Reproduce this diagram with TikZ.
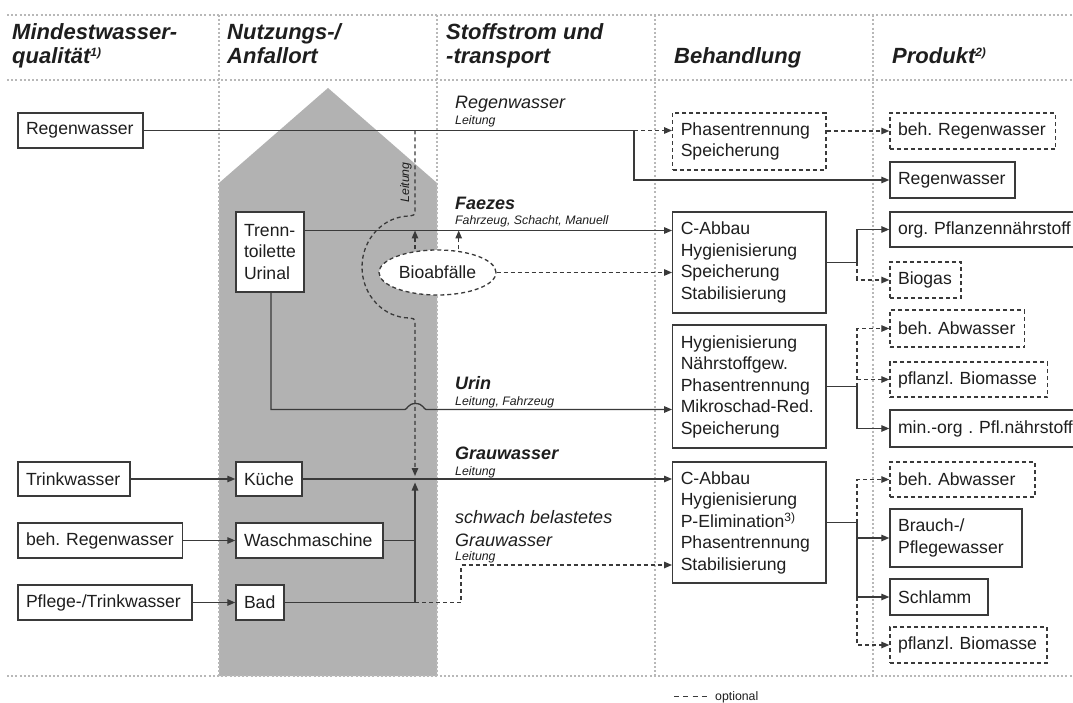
\documentclass[tikz,border=0pt]{standalone}
\usepackage{fontspec}
\setmainfont{Liberation Sans}
\usetikzlibrary{arrows.meta,shapes.geometric}
\definecolor{linec}{HTML}{3A3A3A}
\definecolor{txtc}{HTML}{1E1E1E}
\definecolor{houseg}{HTML}{B2B2B2}
\definecolor{dotc}{HTML}{B8B8B8}
\pgfdeclarelayer{bgl}\pgfdeclarelayer{connl}\pgfsetlayers{bgl,connl,main}
\frenchspacing
\hyphenpenalty=10000
\exhyphenpenalty=10000
\newcommand\boxfont{\fontsize{17.6}{21.5}\selectfont}
\newcommand\hdfont{\fontsize{22}{24}\selectfont\bfseries\itshape}
\newcommand\lblfont{\fontsize{18}{21}\selectfont\itshape}
\newcommand\smfont{\fontsize{12.3}{14}\selectfont\itshape}
\newcommand\mysup[2]{\raisebox{#1}{\fontsize{12}{12}\selectfont #2}}
\begin{document}
\begin{tikzpicture}[x=1pt,y=-1pt,
  box/.style={draw=linec,line width=1.4pt,fill=white,text=txtc,font=\boxfont,inner xsep=8pt,inner ysep=0pt,align=left},
  optbox/.style={box,dash pattern=on 4pt off 3pt},
  conn/.style={draw=linec,line width=1.3pt},
  opt/.style={dash pattern=on 4pt off 3pt},
  arr/.style={-{Triangle[length=8pt,width=6.5pt]}},
  hd/.style={anchor=base west,font=\hdfont,text=txtc,inner sep=0pt},
  lbl/.style={anchor=base west,font=\lblfont,text=txtc,inner sep=0pt},
  blbl/.style={anchor=base west,font=\lblfont\bfseries,text=txtc,inner sep=0pt},
  sm/.style={anchor=base west,font=\smfont,text=txtc,inner sep=0pt},
  dotl/.style={draw=dotc,line width=2pt,dash pattern=on 2pt off 2.2pt}]
\useasboundingbox (0,0) rectangle (1073,703);

% ---------- background: house and dotted grid ----------
\begin{pgfonlayer}{bgl}
\fill[white] (0,0) rectangle (1073,703);
\fill[houseg] (219,676) -- (219,183) -- (328,88) -- (437,183) -- (437,676) -- cycle;
\draw[dotl] (7,15) -- (1073,15);
\draw[dotl] (7,80) -- (1073,80);
\draw[dotl] (7,676) -- (1073,676);
\foreach \xx in {219,437,655,873} \draw[dotl] (\xx,15) -- (\xx,676);
\end{pgfonlayer}

% ---------- headers ----------
\node[hd] (h1a) at (12,40) {Mindestwasser-};
\node[hd] (h1b) at (12,64) {qualität\mysup{7pt}{\itshape 1)}};
\node[hd] (h2a) at (227,40) {Nutzungs-/};
\node[hd] (h2b) at (227,64) {Anfallort};
\node[hd] (h3a) at (446,40) {Stoffstrom und};
\node[hd] (h3b) at (446,64) {-transport};
\node[hd] (h4) at (674,64) {Behandlung};
\node[hd] (h5) at (892,64) {Produkt\mysup{7pt}{\itshape 2)}};

% ---------- left column ----------
\node[box,text width=109pt,minimum height=35pt] (lRegen) at (80.5,130.5) {Regenwasser};
\node[box,text width=96pt,minimum height=34pt] (lTrink) at (74,479) {Trinkwasser};
\node[box,text width=148.5pt,minimum height=35pt] (lBehRegen) at (100.25,540.5) {beh. Regenwasser};
\node[box,text width=158pt,minimum height=35pt] (lPflege) at (105,602.5) {Pflege-/Trinkwasser};

% ---------- usage column ----------
\node[box,text width=52pt,minimum height=80pt] (uTrenn) at (270,252) {Trenn-\\toilette\\Urinal};
\node[box,text width=50pt,minimum height=34pt] (uKueche) at (269,479) {Küche};
\node[box,text width=131pt,minimum height=35pt] (uWasch) at (309.5,540.5) {Waschmaschine};
\node[box,text width=32pt,minimum height=35pt] (uBad) at (260,602.5) {Bad};
\node[ellipse,draw=linec,line width=1.3pt,dash pattern=on 4pt off 3pt,fill=white,text=txtc,font=\boxfont,
      minimum width=117pt,minimum height=45pt,inner sep=0pt] (bio) at (437.5,272.5) {Bioabfälle};

% ---------- treatment column ----------
\node[optbox,text width=137.3pt,minimum height=57pt] (bPhasen) at (749.4,141.5) {Phasentrennung\\Speicherung};
\node[box,text width=137.3pt,minimum height=101pt] (bFaez) at (749.4,262.5) {C-Abbau\\Hygienisierung\\Speicherung\\Stabilisierung};
\node[box,text width=137.3pt,minimum height=123pt] (bUrin) at (749.4,386.5) {Hygienisierung\\Nährstoffgew.\\Phasentrennung\\Mikroschad-Red.\\Speicherung};
\node[box,text width=137.3pt,minimum height=121pt] (bGrau) at (749.4,522.5) {C-Abbau\\Hygienisierung\\P-Elimination\mysup{6pt}{3)}\\Phasentrennung\\Stabilisierung};

% ---------- product column ----------
\node[optbox,text width=149.6pt,minimum height=36pt] (pBehRegen) at (972.8,131) {beh. Regenwasser};
\node[box,text width=108.8pt,minimum height=36pt] (pRegen) at (952.4,180) {Regenwasser};
\node[box,text width=184pt,minimum height=35pt] (pOrg) at (990,229.5) {org. Pflanzennährstoff};
\node[optbox,text width=55pt,minimum height=36pt] (pBiogas) at (925.5,280) {Biogas};
\node[optbox,text width=118.5pt,minimum height=37pt] (pBehAbw1) at (957.25,328.5) {beh. Abwasser};
\node[optbox,text width=141.7pt,minimum height=35pt] (pBiom1) at (968.85,379.5) {pflanzl. Biomasse};
\node[box,text width=184pt,minimum height=37pt] (pMin) at (990,428.5) {min.-org . Pfl.nährstoff};
\node[optbox,text width=129pt,minimum height=35pt] (pBehAbw2) at (962.5,479.5) {beh. Abwasser};
\node[box,text width=116pt,minimum height=58pt] (pBrauch) at (956,538) {Brauch-/\\Pflegewasser};
\node[box,text width=82pt,minimum height=36pt] (pSchlamm) at (939,597) {Schlamm};
\node[optbox,text width=141pt,minimum height=36pt] (pBiom2) at (968.5,645) {pflanzl. Biomasse};

% ---------- flow labels ----------
\node[lbl] (tRegen) at (455,109) {Regenwasser};
\node[sm] (tRegenL) at (455,125) {Leitung};
\node[blbl] (tFaez) at (455,210) {Faezes};
\node[sm] (tFaezL) at (455,224.5) {Fahrzeug, Schacht, Manuell};
\node[blbl] (tUrin) at (455,389) {Urin};
\node[sm] (tUrinL) at (455,405) {Leitung, Fahrzeug};
\node[blbl] (tGrau) at (455,459.5) {Grauwasser};
\node[sm] (tGrauL) at (455,475) {Leitung};
\node[lbl] (tSchw1) at (455,523.5) {schwach belastetes};
\node[lbl] (tSchw2) at (455,546) {Grauwasser};
\node[sm] (tSchwL) at (455,560.5) {Leitung};
\node[sm,anchor=center,rotate=90] (tLeit) at (406,182.5) {Leitung};

% legend
\coordinate (lg1) at (674,696);
\coordinate (lg2) at (707,696);
\node[sm,font=\fontsize{12.3}{14}\selectfont] (tOpt) at (715,700) {optional};

% ---------- helper coordinates ----------
\coordinate (jR) at (634,130.5);
\coordinate (lv) at (415,0);
\coordinate (rv) at (458.7,0);
\coordinate (fzy) at (0,230.5);
\coordinate (xU) at (271,0);
\coordinate (xs) at (461,0);
\coordinate (sy) at (0,565);
\coordinate (xJ) at (857,0);
\coordinate (gdown) at (415,476);
\coordinate (gup) at (415,482.5);

\begin{pgfonlayer}{connl}
% Regenwasser
\draw[conn] (lRegen.east) -- (jR);
\draw[conn,opt,arr] (jR) -- (bPhasen.west |- jR);
\draw[conn,arr] (jR) |- (pRegen.west);
\draw[conn,opt,arr] (bPhasen.east |- pBehRegen.west) -- (pBehRegen.west);
% Faezes
\draw[conn,arr] (uTrenn.east |- fzy) -- (bFaez.west |- fzy);
\draw[conn,opt,arr] (bio.east) -- (bFaez.west |- bio.east);
\draw[conn,opt,arr] (bio.north -| lv) -- (lv |- fzy);
\draw[conn,opt,arr] (bio.north -| rv) -- (rv |- fzy);
% Leitung from Regenwasser down to Grauwasser
\draw[conn,opt,arr] (lv |- jR) -- (415,211) .. controls (415,215) and (413,216) .. (410,216)
   .. controls (383.5,216) and (362,238.8) .. (362,267)
   .. controls (362,295.2) and (383.5,318) .. (410,318)
   .. controls (413,318) and (415,319) .. (415,322) -- (gdown);
% Urin
\draw[conn,arr] (uTrenn.south -| xU) -- (271,409.5) -- (405,409.5)
   .. controls (407,409.5) and (408,403.5) .. (415.5,403.5)
   .. controls (423,403.5) and (424,409.5) .. (426,409.5) -- (bUrin.west |- 0,409.5);
% Grauwasser
\draw[conn,arr] (uKueche.east) -- (bGrau.west |- uKueche.east);
\draw[conn] (uWasch.east) -- (lv |- uWasch.east);
\draw[conn] (uBad.east) -- (lv |- uBad.east);
\draw[conn,arr] (lv |- uBad.east) -- (gup);
\draw[conn,opt,arr] (lv |- uBad.east) -| (xs |- sy) -- (bGrau.west |- sy);
% inputs
\draw[conn,arr] (lTrink.east) -- (uKueche.west);
\draw[conn,arr] (lBehRegen.east) -- (uWasch.west);
\draw[conn,arr] (lPflege.east) -- (uBad.west);
% outputs
\draw[conn] (bFaez.east) -- (xJ |- bFaez.east);
\draw[conn,arr] (xJ |- bFaez.east) |- (pOrg.west);
\draw[conn,opt,arr] (xJ |- bFaez.east) |- (pBiogas.west);
\draw[conn] (bUrin.east) -- (xJ |- bUrin.east);
\draw[conn,opt,arr] (xJ |- bUrin.east) |- (pBehAbw1.west);
\draw[conn,opt,arr] (xJ |- pBiom1.west) -- (pBiom1.west);
\draw[conn,arr] (xJ |- bUrin.east) |- (pMin.west);
\draw[conn] (bGrau.east) -- (xJ |- bGrau.east);
\draw[conn,opt,arr] (xJ |- bGrau.east) |- (pBehAbw2.west);
\draw[conn,arr] (xJ |- bGrau.east) |- (pBrauch.west);
\draw[conn,arr] (xJ |- pBrauch.west) |- (pSchlamm.west);
\draw[conn,opt,arr] (xJ |- pSchlamm.west) |- (pBiom2.west);
% legend
\draw[draw=linec,line width=1pt,dash pattern=on 5pt off 4.3pt] (lg1) -- (lg2);
\end{pgfonlayer}
\end{tikzpicture}
\end{document}
